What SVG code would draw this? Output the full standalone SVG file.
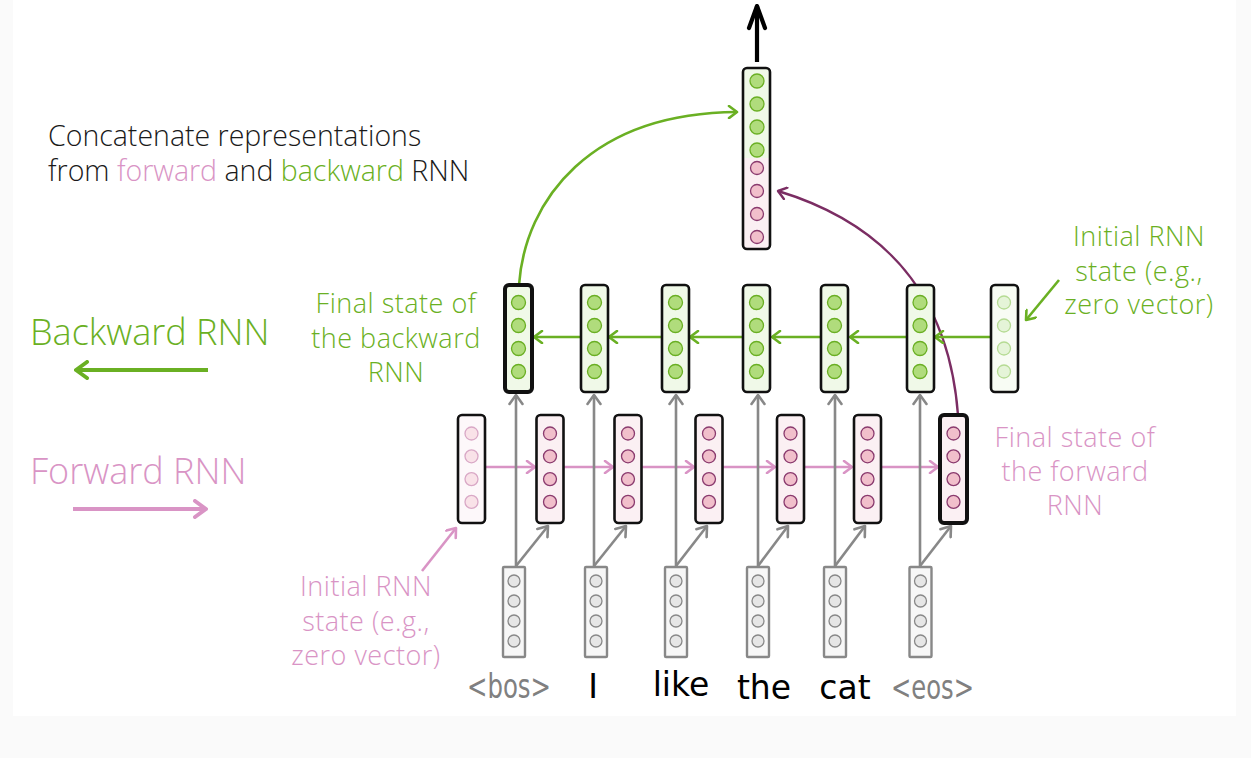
<svg xmlns="http://www.w3.org/2000/svg" width="1251" height="758" viewBox="0 0 1251 758">
<defs>
<style>
.sans{font-family:"Open Sans","Liberation Sans",sans-serif;font-weight:300}
.ann{font-size:27px;letter-spacing:0.5px}
.green{fill:#6ab023}
.pink{fill:#d994c5}
.dark{fill:#1a1a1a}
.word{font-family:"DejaVu Sans","Liberation Sans",sans-serif;font-size:33px}
.box{stroke:#111;stroke-width:2.6}
.final{stroke:#111;stroke-width:4}
.bbox{fill:#f0f9e8}
.fbox{fill:#fbf0f3}
.gbox{fill:#f7f7f7;stroke:#888;stroke-width:2.4}
.gc{fill:#b0dc7c;stroke:#6aaf23;stroke-width:1.3}
.pc{fill:#f1bfcb;stroke:#8a3a6e;stroke-width:1.3}
.gc0{fill:#e5f4d8;stroke:#b5db93;stroke-width:1.3}
.pc0{fill:#f9e2e8;stroke:#d9a8c6;stroke-width:1.3}
.ic{fill:#e6e6e6;stroke:#888;stroke-width:1.3}
.lg{stroke:#6ab023;stroke-width:2.6;fill:none}
.lp{stroke:#d994c5;stroke-width:2.6;fill:none}
.lgr{stroke:#888;stroke-width:2.6;fill:none}
</style>
<marker id="mg" viewBox="-10 -7 12 14" refX="0" refY="0" markerWidth="12" markerHeight="14" orient="auto" markerUnits="userSpaceOnUse"><path d="M-8,-6 L0,0 L-8,6" fill="none" stroke="#6ab023" stroke-width="2.6" stroke-linecap="round" stroke-linejoin="round"/></marker>
<marker id="mp" viewBox="-10 -7 12 14" refX="0" refY="0" markerWidth="12" markerHeight="14" orient="auto" markerUnits="userSpaceOnUse"><path d="M-8,-6 L0,0 L-8,6" fill="none" stroke="#d994c5" stroke-width="2.6" stroke-linecap="round" stroke-linejoin="round"/></marker>
<marker id="mgr" viewBox="-11 -8 13 16" refX="0" refY="0" markerWidth="13" markerHeight="16" orient="auto" markerUnits="userSpaceOnUse"><path d="M-9,-6.5 L0,0 L-9,6.5" fill="none" stroke="#888" stroke-width="2.6" stroke-linecap="round" stroke-linejoin="round"/></marker>
<marker id="mu" viewBox="-10 -7 12 14" refX="0" refY="0" markerWidth="12" markerHeight="14" orient="auto" markerUnits="userSpaceOnUse"><path d="M-8,-6 L0,0 L-8,6" fill="none" stroke="#7b2d63" stroke-width="2.4" stroke-linecap="round" stroke-linejoin="round"/></marker>
<marker id="mgb" viewBox="-14 -10 16 20" refX="0" refY="0" markerWidth="16" markerHeight="20" orient="auto" markerUnits="userSpaceOnUse"><path d="M-11,-8 L0,0 L-11,8" fill="none" stroke="#6ab023" stroke-width="4" stroke-linecap="round" stroke-linejoin="round"/></marker>
<marker id="mpb" viewBox="-14 -10 16 20" refX="0" refY="0" markerWidth="16" markerHeight="20" orient="auto" markerUnits="userSpaceOnUse"><path d="M-11,-8 L0,0 L-11,8" fill="none" stroke="#d994c5" stroke-width="4" stroke-linecap="round" stroke-linejoin="round"/></marker>
<marker id="mk" viewBox="-26 -12 28 24" refX="0" refY="0" markerWidth="28" markerHeight="24" orient="auto" markerUnits="userSpaceOnUse"><path d="M-22,-8 L0,0 L-22,8" fill="none" stroke="#000" stroke-width="4.2" stroke-linecap="round" stroke-linejoin="round"/></marker>
</defs>
<rect x="0" y="0" width="1251" height="758" fill="#fafafa"/>
<rect x="13" y="0" width="1223" height="716" fill="#ffffff"/>

<g id="labels">
<text class="sans dark" x="48" y="146" font-size="28.5">Concatenate representations</text>
<text class="sans dark" x="48" y="181" font-size="28.5">from <tspan class="pink">forward</tspan> and <tspan class="green">backward</tspan> RNN</text>
<text class="sans green" x="30" y="345" font-size="36">Backward RNN</text>
<text class="sans pink" x="30" y="484" font-size="36">Forward RNN</text>
<text class="sans green ann" text-anchor="middle"><tspan x="396" y="313">Final state of</tspan><tspan x="396" y="348">the backward</tspan><tspan x="396" y="382">RNN</tspan></text>
<text class="sans green ann" text-anchor="middle"><tspan x="1139" y="246">Initial RNN</tspan><tspan x="1139" y="281">state (e.g.,</tspan><tspan x="1139" y="314">zero vector)</tspan></text>
<text class="sans pink ann" text-anchor="middle"><tspan x="1075" y="447">Final state of</tspan><tspan x="1075" y="481">the forward</tspan><tspan x="1075" y="515">RNN</tspan></text>
<text class="sans pink ann" text-anchor="middle"><tspan x="366" y="596">Initial RNN</tspan><tspan x="366" y="631">state (e.g.,</tspan><tspan x="366" y="665">zero vector)</tspan></text>
<text class="word" x="467" y="698" fill="#808080" textLength="84" lengthAdjust="spacingAndGlyphs">&lt;bos&gt;</text>
<text class="word" x="593" y="698" text-anchor="middle" fill="#000">I</text>
<text class="word" x="681" y="696" text-anchor="middle" fill="#000">like</text>
<text class="word" x="764" y="699" text-anchor="middle" fill="#000">the</text>
<text class="word" x="845" y="699" text-anchor="middle" fill="#000">cat</text>
<text class="word" x="891" y="699" fill="#808080" textLength="83" lengthAdjust="spacingAndGlyphs">&lt;eos&gt;</text>
</g>

<g id="connectors">
<line x1="208" y1="370" x2="76" y2="370" stroke="#6ab023" stroke-width="4" marker-end="url(#mgb)"/>
<line x1="73" y1="509" x2="206" y2="509" stroke="#d994c5" stroke-width="4" marker-end="url(#mpb)"/>
<line x1="757" y1="62" x2="757" y2="6" stroke="#000" stroke-width="4.2" marker-end="url(#mk)"/>
<path class="lg" d="M519,285 C525,200 590,113 737,112" marker-end="url(#mg)"/>
<path d="M958,415 C950,310 900,228 778,191" fill="none" stroke="#7b2d63" stroke-width="2.4" marker-end="url(#mu)"/>
<line class="lg" x1="1059" y1="280" x2="1026" y2="320" marker-end="url(#mg)"/>
<line class="lp" x1="422" y1="571" x2="456" y2="528" marker-end="url(#mp)"/>
<line class="lg" x1="990" y1="337" x2="935" y2="337" marker-end="url(#mg)"/>
<line class="lg" x1="906" y1="337" x2="850" y2="337" marker-end="url(#mg)"/>
<line class="lg" x1="821" y1="337" x2="772" y2="337" marker-end="url(#mg)"/>
<line class="lg" x1="743" y1="337" x2="690" y2="337" marker-end="url(#mg)"/>
<line class="lg" x1="662" y1="337" x2="609" y2="337" marker-end="url(#mg)"/>
<line class="lg" x1="580" y1="337" x2="534" y2="337" marker-end="url(#mg)"/>
<line class="lp" x1="485" y1="467" x2="535" y2="467" marker-end="url(#mp)"/>
<line class="lp" x1="564" y1="467" x2="613" y2="467" marker-end="url(#mp)"/>
<line class="lp" x1="642" y1="467" x2="694" y2="467" marker-end="url(#mp)"/>
<line class="lp" x1="723" y1="467" x2="775" y2="467" marker-end="url(#mp)"/>
<line class="lp" x1="804" y1="467" x2="852" y2="467" marker-end="url(#mp)"/>
<line class="lp" x1="881" y1="467" x2="938" y2="467" marker-end="url(#mp)"/>
<line class="lgr" x1="516" y1="566" x2="516" y2="395" marker-end="url(#mgr)"/>
<line class="lgr" x1="516" y1="566" x2="548" y2="526" marker-end="url(#mgr)"/>
<line class="lgr" x1="594" y1="566" x2="594" y2="395" marker-end="url(#mgr)"/>
<line class="lgr" x1="594" y1="566" x2="626" y2="526" marker-end="url(#mgr)"/>
<line class="lgr" x1="676" y1="566" x2="676" y2="395" marker-end="url(#mgr)"/>
<line class="lgr" x1="676" y1="566" x2="707" y2="526" marker-end="url(#mgr)"/>
<line class="lgr" x1="758" y1="566" x2="758" y2="395" marker-end="url(#mgr)"/>
<line class="lgr" x1="758" y1="566" x2="788" y2="526" marker-end="url(#mgr)"/>
<line class="lgr" x1="835" y1="566" x2="835" y2="395" marker-end="url(#mgr)"/>
<line class="lgr" x1="835" y1="566" x2="865" y2="526" marker-end="url(#mgr)"/>
<line class="lgr" x1="920" y1="566" x2="920" y2="395" marker-end="url(#mgr)"/>
<line class="lgr" x1="920" y1="566" x2="951" y2="526" marker-end="url(#mgr)"/>
</g>

<g id="concat">
<rect x="743" y="68" width="27" height="181" rx="4" fill="#fbf0f3"/>
<path d="M743,158 L743,72 Q743,68 747,68 L766,68 Q770,68 770,72 L770,158 Z" fill="#f0f9e8"/>
<rect x="743" y="68" width="27" height="181" rx="4" fill="none" class="box"/>
<circle class="gc" cx="757" cy="81" r="7"/><circle class="gc" cx="757" cy="104" r="7"/><circle class="gc" cx="757" cy="127" r="7"/><circle class="gc" cx="757" cy="150" r="7"/>
<circle class="pc" cx="757" cy="168" r="6.5"/><circle class="pc" cx="757" cy="191" r="6.5"/><circle class="pc" cx="757" cy="214" r="6.5"/><circle class="pc" cx="757" cy="237" r="6.5"/>
</g>

<g id="bw1"><rect class="bbox final" x="505" y="285" width="27" height="107" rx="4"/><circle class="gc" cx="518.5" cy="302.5" r="7"/><circle class="gc" cx="518.5" cy="325.5" r="7"/><circle class="gc" cx="518.5" cy="348.5" r="7"/><circle class="gc" cx="518.5" cy="371.5" r="7"/></g>
<g id="bw2"><rect class="bbox box" x="581" y="285" width="27" height="107" rx="4"/><circle class="gc" cx="594.5" cy="302.5" r="7"/><circle class="gc" cx="594.5" cy="325.5" r="7"/><circle class="gc" cx="594.5" cy="348.5" r="7"/><circle class="gc" cx="594.5" cy="371.5" r="7"/></g>
<g id="bw3"><rect class="bbox box" x="662" y="285" width="27" height="107" rx="4"/><circle class="gc" cx="675.5" cy="302.5" r="7"/><circle class="gc" cx="675.5" cy="325.5" r="7"/><circle class="gc" cx="675.5" cy="348.5" r="7"/><circle class="gc" cx="675.5" cy="371.5" r="7"/></g>
<g id="bw4"><rect class="bbox box" x="743" y="285" width="27" height="107" rx="4"/><circle class="gc" cx="756.5" cy="302.5" r="7"/><circle class="gc" cx="756.5" cy="325.5" r="7"/><circle class="gc" cx="756.5" cy="348.5" r="7"/><circle class="gc" cx="756.5" cy="371.5" r="7"/></g>
<g id="bw5"><rect class="bbox box" x="821" y="285" width="27" height="107" rx="4"/><circle class="gc" cx="834.5" cy="302.5" r="7"/><circle class="gc" cx="834.5" cy="325.5" r="7"/><circle class="gc" cx="834.5" cy="348.5" r="7"/><circle class="gc" cx="834.5" cy="371.5" r="7"/></g>
<g id="bw6"><rect class="bbox box" x="907" y="285" width="27" height="107" rx="4"/><circle class="gc" cx="920" cy="302.5" r="7"/><circle class="gc" cx="920" cy="325.5" r="7"/><circle class="gc" cx="920" cy="348.5" r="7"/><circle class="gc" cx="920" cy="371.5" r="7"/></g>
<g id="bw0"><rect class="box" fill="#f8fcf4" x="991" y="285" width="27" height="107" rx="4"/><circle class="gc0" cx="1004" cy="302.5" r="6.5"/><circle class="gc0" cx="1004" cy="325.5" r="6.5"/><circle class="gc0" cx="1004" cy="348.5" r="6.5"/><circle class="gc0" cx="1004" cy="371.5" r="6.5"/></g>

<g id="fw0"><rect class="box" fill="#fdf8fa" x="458" y="415" width="27" height="108" rx="4"/><circle class="pc0" cx="471.5" cy="433.5" r="6.5"/><circle class="pc0" cx="471.5" cy="456.3" r="6.5"/><circle class="pc0" cx="471.5" cy="479.1" r="6.5"/><circle class="pc0" cx="471.5" cy="501.9" r="6.5"/></g>
<g id="fw1"><rect class="fbox box" x="536.5" y="415" width="27" height="108" rx="4"/><circle class="pc" cx="550" cy="433.5" r="6.5"/><circle class="pc" cx="550" cy="456.3" r="6.5"/><circle class="pc" cx="550" cy="479.1" r="6.5"/><circle class="pc" cx="550" cy="501.9" r="6.5"/></g>
<g id="fw2"><rect class="fbox box" x="614.5" y="415" width="27" height="108" rx="4"/><circle class="pc" cx="628" cy="433.5" r="6.5"/><circle class="pc" cx="628" cy="456.3" r="6.5"/><circle class="pc" cx="628" cy="479.1" r="6.5"/><circle class="pc" cx="628" cy="501.9" r="6.5"/></g>
<g id="fw3"><rect class="fbox box" x="695.5" y="415" width="27" height="108" rx="4"/><circle class="pc" cx="709" cy="433.5" r="6.5"/><circle class="pc" cx="709" cy="456.3" r="6.5"/><circle class="pc" cx="709" cy="479.1" r="6.5"/><circle class="pc" cx="709" cy="501.9" r="6.5"/></g>
<g id="fw4"><rect class="fbox box" x="777" y="415" width="27" height="108" rx="4"/><circle class="pc" cx="790.5" cy="433.5" r="6.5"/><circle class="pc" cx="790.5" cy="456.3" r="6.5"/><circle class="pc" cx="790.5" cy="479.1" r="6.5"/><circle class="pc" cx="790.5" cy="501.9" r="6.5"/></g>
<g id="fw5"><rect class="fbox box" x="854" y="415" width="27" height="108" rx="4"/><circle class="pc" cx="867.5" cy="433.5" r="6.5"/><circle class="pc" cx="867.5" cy="456.3" r="6.5"/><circle class="pc" cx="867.5" cy="479.1" r="6.5"/><circle class="pc" cx="867.5" cy="501.9" r="6.5"/></g>
<g id="fw6"><rect class="fbox final" x="940" y="415" width="27" height="108" rx="4"/><circle class="pc" cx="953.5" cy="433.5" r="6.5"/><circle class="pc" cx="953.5" cy="456.3" r="6.5"/><circle class="pc" cx="953.5" cy="479.1" r="6.5"/><circle class="pc" cx="953.5" cy="501.9" r="6.5"/></g>

<g id="in1"><rect class="gbox" x="503" y="567" width="22" height="90" rx="1"/><circle class="ic" cx="514" cy="581" r="6"/><circle class="ic" cx="514" cy="601" r="6"/><circle class="ic" cx="514" cy="621" r="6"/><circle class="ic" cx="514" cy="641" r="6"/></g>
<g id="in2"><rect class="gbox" x="585" y="567" width="22" height="90" rx="1"/><circle class="ic" cx="596" cy="581" r="6"/><circle class="ic" cx="596" cy="601" r="6"/><circle class="ic" cx="596" cy="621" r="6"/><circle class="ic" cx="596" cy="641" r="6"/></g>
<g id="in3"><rect class="gbox" x="665" y="567" width="22" height="90" rx="1"/><circle class="ic" cx="676" cy="581" r="6"/><circle class="ic" cx="676" cy="601" r="6"/><circle class="ic" cx="676" cy="621" r="6"/><circle class="ic" cx="676" cy="641" r="6"/></g>
<g id="in4"><rect class="gbox" x="747" y="567" width="22" height="90" rx="1"/><circle class="ic" cx="758" cy="581" r="6"/><circle class="ic" cx="758" cy="601" r="6"/><circle class="ic" cx="758" cy="621" r="6"/><circle class="ic" cx="758" cy="641" r="6"/></g>
<g id="in5"><rect class="gbox" x="824" y="567" width="22" height="90" rx="1"/><circle class="ic" cx="835" cy="581" r="6"/><circle class="ic" cx="835" cy="601" r="6"/><circle class="ic" cx="835" cy="621" r="6"/><circle class="ic" cx="835" cy="641" r="6"/></g>
<g id="in6"><rect class="gbox" x="909.5" y="567" width="22" height="90" rx="1"/><circle class="ic" cx="920.5" cy="581" r="6"/><circle class="ic" cx="920.5" cy="601" r="6"/><circle class="ic" cx="920.5" cy="621" r="6"/><circle class="ic" cx="920.5" cy="641" r="6"/></g>
</svg>
